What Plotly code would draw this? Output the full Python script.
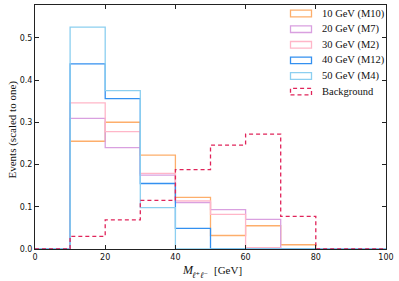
import plotly.graph_objects as go

bin_edges = [0, 10, 20, 30, 40, 50, 60, 70, 80, 90, 100]
labels = ["10 GeV (M10)", "20 GeV (M7)", "30 GeV (M2)", "40 GeV (M12)", "50 GeV (M4)", "Background"]
m10 = [0, 0.255, 0.300, 0.222, 0.122, 0.032, 0.055, 0.010, 0, 0]
m7 = [0, 0.309, 0.240, 0.175, 0.110, 0.093, 0.070, 0, 0, 0]
m2 = [0, 0.346, 0.278, 0.179, 0.114, 0.082, 0.003, 0, 0, 0]
m12 = [0, 0.438, 0.356, 0.155, 0.049, 0, 0, 0, 0, 0]
m4 = [0, 0.525, 0.375, 0.098, 0, 0, 0, 0, 0, 0]
bkg = [0, 0.030, 0.069, 0.115, 0.188, 0.246, 0.272, 0.077, 0, 0]
x_ticks = [0, 20, 40, 60, 80, 100]
y_ticks = [0.0, 0.1, 0.2, 0.3, 0.4, 0.5]

series = [m10, m7, m2, m12, m4, bkg]
colors = ["#FDAE6B", "#D9A0E0", "#FFB6C8", "#3390F0", "#8CCFF0", "#E0245A"]
dashes = ["solid"] * 5 + ["4px,3px"]

fig = go.Figure()
for vals, col, dsh, name in zip(series, colors, dashes, labels):
    fig.add_trace(go.Scatter(
        x=bin_edges, y=list(vals) + [0], mode="lines", line_shape="hv",
        line=dict(color=col, width=1.3, dash=dsh), name=name, showlegend=False,
        hoverinfo="skip",
    ))

W, H = 399, 281
ml, mr, mt, mb = 35, 13, 5, 32
pw, ph = W - ml - mr, H - mt - mb

def px(x):
    return (x - ml) / pw

def py(y):
    return 1 - (y - mt) / ph

shapes = []
annotations = []
row_y = [13.5, 29.2, 44.8, 60.4, 76.0, 91.6]
for i, (name, col, dsh) in enumerate(zip(labels, colors, dashes)):
    yc = row_y[i]
    shapes.append(dict(type="rect", xref="paper", yref="paper",
                       x0=px(290.5), x1=px(311.5), y0=py(yc + 3.3), y1=py(yc - 3.3),
                       line=dict(color=col, width=1.3, dash=dsh),
                       fillcolor="rgba(0,0,0,0)"))
    annotations.append(dict(xref="paper", yref="paper", x=px(319.5), y=py(yc),
                            xanchor="left", yanchor="middle", showarrow=False, text=name,
                            font=dict(family="Liberation Serif", size=10.5, color="#111")))

# x-axis title: M_{l+l-} [GeV]
annotations.append(dict(xref="paper", yref="paper", x=px(179.5), y=py(270),
                        xanchor="left", yanchor="middle", showarrow=False,
                        text="<i>M</i>",
                        font=dict(family="Liberation Serif", size=12, color="#111")))
annotations.append(dict(xref="paper", yref="paper", x=px(189.5), y=py(274.5),
                        xanchor="left", yanchor="middle", showarrow=False,
                        text="<i>ℓ⁺ℓ⁻</i>",
                        font=dict(family="DejaVu Serif", size=8.5, color="#111")))
annotations.append(dict(xref="paper", yref="paper", x=px(212), y=py(270),
                        xanchor="left", yanchor="middle", showarrow=False,
                        text="[GeV]",
                        font=dict(family="Liberation Serif", size=11, color="#111")))
annotations.append(dict(xref="paper", yref="paper", x=px(11.5), y=py(130),
                        xanchor="center", yanchor="middle", showarrow=False, textangle=-90,
                        text="Events (scaled to one)",
                        font=dict(family="Liberation Serif", size=11, color="#111")))

axis_common = dict(
    showgrid=False, zeroline=False, ticks="inside", ticklen=4, tickwidth=1,
    tickcolor="#222", showline=True, linecolor="#222", linewidth=1, mirror="ticks",
    tickfont=dict(family="DejaVu Sans", size=8, color="#111"), automargin=False,
)

fig.update_layout(
    width=W, height=H, margin=dict(l=ml, r=mr, t=mt, b=mb),
    plot_bgcolor="white", paper_bgcolor="white",
    xaxis=dict(range=[0, 100], tickvals=x_ticks, ticktext=[str(v) for v in x_ticks],
               **axis_common),
    yaxis=dict(range=[0, 0.5775], tickvals=y_ticks, ticktext=[f"{v:.1f}" for v in y_ticks],
               **axis_common),
    shapes=shapes, annotations=annotations, showlegend=False,
)

fig.write_html("out.html", config={"displayModeBar": False},
               post_script="document.body.style.margin='0';")
